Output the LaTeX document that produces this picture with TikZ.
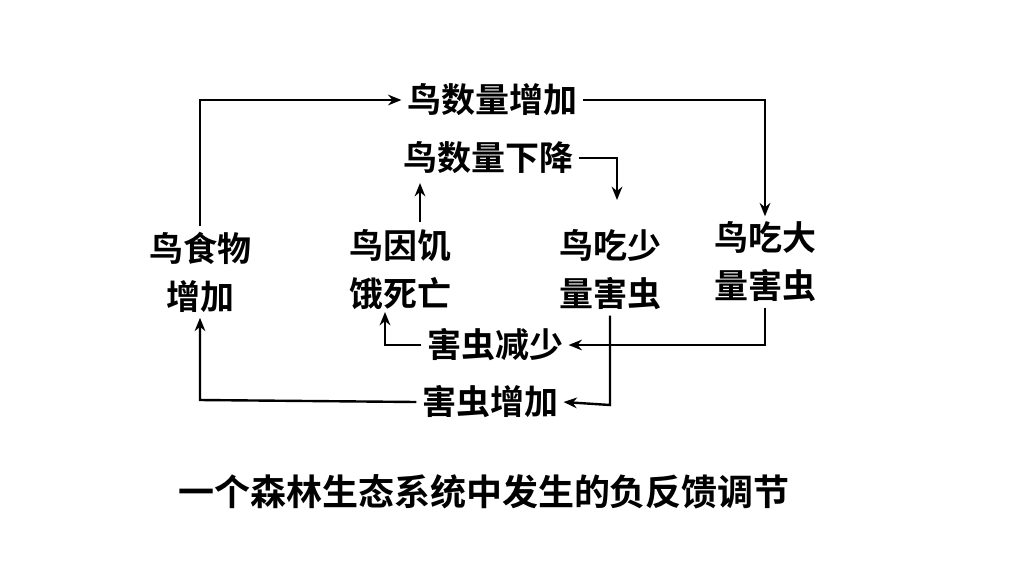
\documentclass[tikz,border=0pt]{standalone}
\usepackage{fontspec}
\newfontfamily\cjk{Noto Sans CJK SC Bold}
\usetikzlibrary{arrows.meta}
\begin{document}
\begin{tikzpicture}[x=0.75pt,y=-0.75pt,
  lab/.style={font=\cjk\fontsize{25.5}{36}\selectfont,inner sep=4pt,align=center},
  ar/.style={draw,line width=1.8pt,-{Stealth[length=10pt,width=8pt]}}]
\useasboundingbox (0,0) rectangle (1018,583);
\node[lab] (a) at (492,100) {鸟数量增加};
\node[lab] (b) at (488,158) {鸟数量下降};
\node[lab] (c) at (200,272) {鸟食物\\增加};
\node[lab] (d) at (400,270) {鸟因饥\\饿死亡};
\node[lab] (e) at (610,270) {鸟吃少\\量害虫};
\node[lab] (f) at (765,262) {鸟吃大\\量害虫};
\node[lab] (g) at (495,345) {害虫减少};
\node[lab] (h) at (490,402) {害虫增加};
\node[lab,font=\cjk\fontsize{27}{30}\selectfont] (t) at (484,492) {一个森林生态系统中发生的负反馈调节};
\coordinate (c1) at (200,100);
\coordinate (a1) at (765,100);
\coordinate (b1) at (617,158);
\coordinate (f1) at (765,345);
\coordinate (e1) at (610,405);
\coordinate (g1) at (385,345);
\coordinate (h1) at (200,400);
\draw[ar] (c.north) -- (c1) -- (a.west);
\draw[ar] (a.east) -- (a1) -- (f.north);
\draw[ar] (b.east) -- (b1) -- (617,200);
\draw[ar] (420,222) -- (420,183);
\draw[ar] (f.south) -- (f1) -- (g.east);
\draw[ar] (e.south) -- (e1) -- (h.east);
\draw[ar] (g.west) -- (g1) -- (385,312);
\draw[ar] (h.west) -- (h1) -- (c.south);
\end{tikzpicture}
\end{document}
